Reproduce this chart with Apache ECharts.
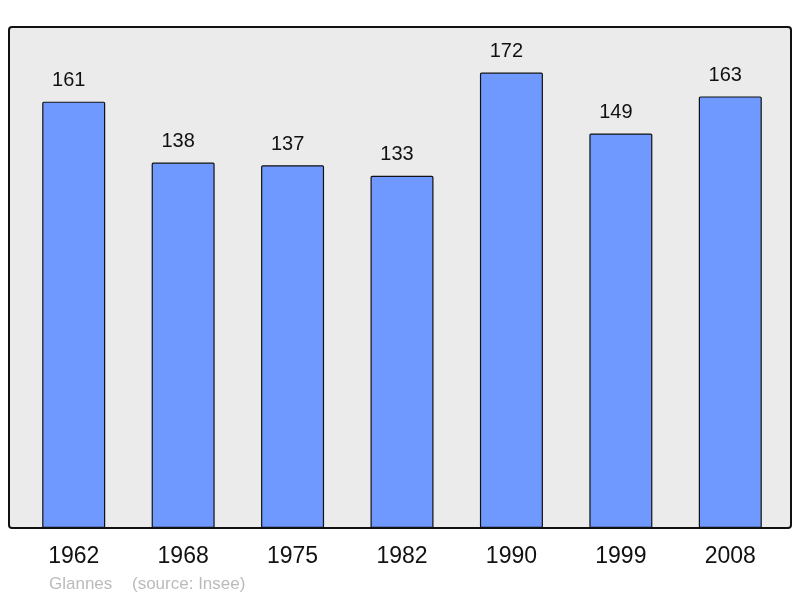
<!DOCTYPE html>
<html>
<head>
<meta charset="utf-8">
<script src="https://cdn.jsdelivr.net/npm/echarts@6/dist/echarts.min.js"></script>
<style>html,body{margin:0;padding:0;background:#fff}#c{width:800px;height:598px}</style>
</head>
<body>
<div id="c"></div>
<script>
const years = ['1962', '1968', '1975', '1982', '1990', '1999', '2008'];
const population = [161, 138, 137, 133, 172, 149, 163];
const placeName = 'Glannes';
const sourceText = '(source: Insee)';

const chart = echarts.init(document.getElementById('c'), null, {renderer: 'canvas'});
const font = '"Liberation Sans", Arial, sans-serif';
chart.setOption({
  animation: false,
  backgroundColor: '#ffffff',
  grid: {left: 19, right: 15, top: 27, bottom: 70, containLabel: false},
  xAxis: {
    type: 'category',
    data: years,
    axisLine: {show: false},
    axisTick: {show: false},
    axisLabel: {fontSize: 23, color: '#111', fontFamily: font, margin: 17}
  },
  yAxis: {
    type: 'value', min: 0, max: Math.max(...population) * 1.1,
    show: false, splitLine: {show: false}
  },
  graphic: [
    {type: 'rect', z: -10, shape: {x: 9, y: 27, width: 782, height: 501, r: 3},
     style: {fill: '#ebebeb', stroke: null}},
    {type: 'rect', z: 100, shape: {x: 9, y: 27, width: 782, height: 501, r: 3},
     style: {fill: null, stroke: '#111', lineWidth: 2}},
    {type: 'text', left: 49, top: 576,
     style: {text: placeName, fill: '#bbbbbb', font: '17px ' + font}},
    {type: 'text', left: 132, top: 576,
     style: {text: sourceText, fill: '#bbbbbb', font: '17px ' + font}}
  ],
  series: [{
    type: 'bar',
    data: population,
    barWidth: 63,
    itemStyle: {color: '#7099ff', borderColor: '#111', borderWidth: 1.2, borderRadius: 1},
    label: {show: true, position: 'top', distance: 11, offset: [-5, 0], fontSize: 20, color: '#111', fontFamily: font}
  }]
});
</script>
</body>
</html>
